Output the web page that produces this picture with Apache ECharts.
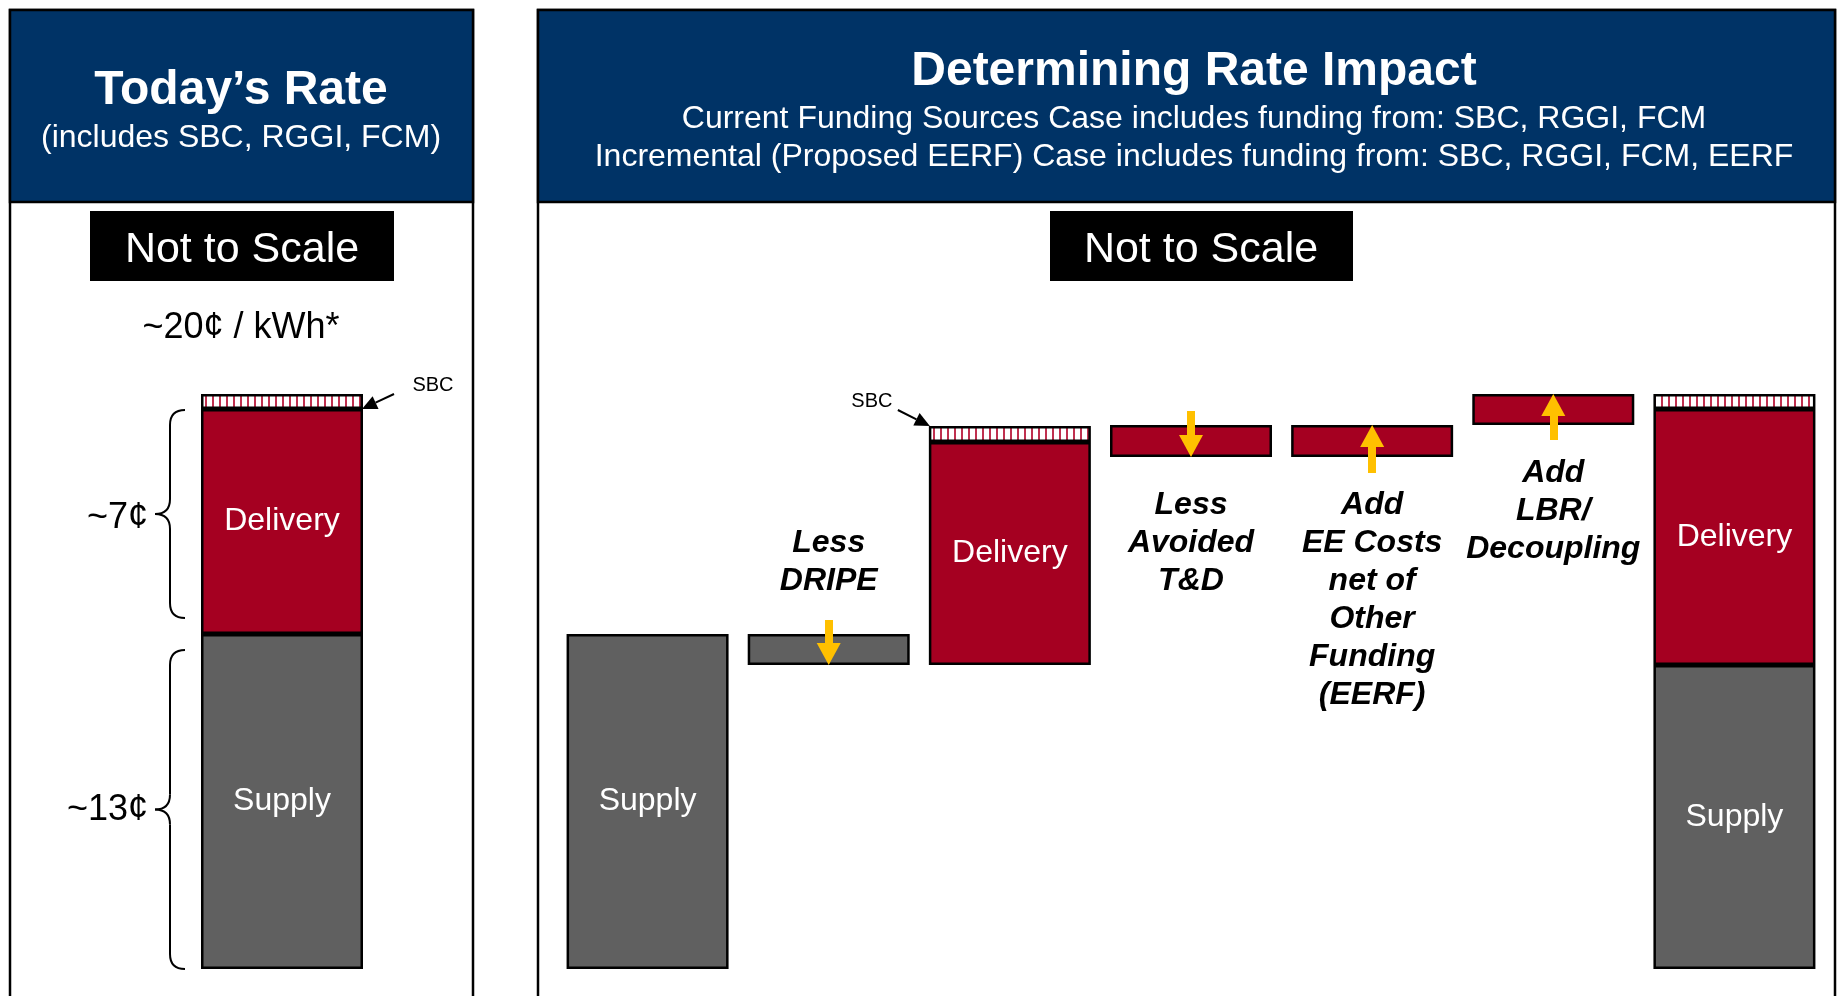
<!DOCTYPE html>
<html>
<head>
<meta charset="utf-8">
<script src="https://cdn.jsdelivr.net/npm/echarts@6/dist/echarts.min.js"></script>
</head>
<body style="margin:0;background:#fff">
<div id="container" style="width:1837px;height:996px"></div>
<script type="text/javascript">
// ---- data (not to scale, visual units) ----
// today's rate, one stacked bar
var todayCats = ['Today'];
var todaySupply = [33.5];
var todayDelivery = [22.5];
var todaySbc = [1.5];

// rate impact waterfall
var steps = ['Supply', 'Less DRIPE', 'Delivery', 'Less Avoided T&D', 'Add EE Costs', 'Add LBR', 'New Rate'];
var stepBase = [0, 30.4, 30.4, 51.2, 51.2, 54.4, 0];
var stepSupply = [33.5, 3.1, '-', '-', '-', '-', 30.4];
var stepDelivery = ['-', '-', 22.3, 3.2, 3.2, 3.1, 25.6];
var stepSbc = ['-', '-', 1.6, '-', '-', '-', 1.5];
var supplyTags = ['Supply', '', '', '', '', '', 'Supply'];
var deliveryTags = ['', '', 'Delivery', '', '', '', 'Delivery'];
var stepNotes = ['', 'Less\nDRIPE', '', 'Less\nAvoided\nT&D', 'Add\nEE Costs\nnet of\nOther\nFunding\n(EERF)', 'Add\nLBR/\nDecoupling', ''];
var noteAbove = [false, true, false, false, false, false, false];
// yellow arrows: step, from, to
var arrows = [
    ['Less DRIPE', 34.9, 30.4],
    ['Less Avoided T&D', 55.8, 51.2],
    ['Add EE Costs', 49.6, 54.4],
    ['Add LBR', 52.9, 57.5]
];
var braceTags = ['~7¢', '~13¢'];

var FONT = "'Liberation Sans', Arial, Helvetica, sans-serif";
var NAVY = '#003366';
var RED = '#A50021';
var GRAY = '#606060';
var GOLD = '#FFC000';

// striped fill for SBC
var hatch = document.createElement('canvas');
hatch.width = 7;
hatch.height = 20;
var hc = hatch.getContext('2d');
hc.fillStyle = '#ffffff';
hc.fillRect(0, 0, 7, 20);
hc.fillStyle = '#C0304F';
hc.fillRect(2, 0, 2, 20);
var hatchFill = {image: hatch, repeat: 'repeat'};

var edge = {borderColor: '#000', borderWidth: 2.5};
var BW = 162;
function tag(text) {
    return {show: true, position: 'inside', formatter: text, color: '#fff', fontSize: 32,
        fontFamily: FONT, textBorderWidth: 0};
}
var noteStyle = {show: true, color: '#000', fontSize: 32, fontWeight: 'bold', fontStyle: 'italic',
    lineHeight: 38, fontFamily: FONT, align: 'center', textBorderWidth: 0};
function note(text, pos, dist) {
    return Object.assign({}, noteStyle, {position: pos, distance: dist, formatter: text});
}
function build(vals, labelFor) {
    return vals.map(function (v, i) {
        var item = {value: v};
        var lab = labelFor(i);
        if (lab) item.label = lab;
        return item;
    });
}

var option = {
    animation: false,
    grid: [
        {left: 202, width: 160, top: 369, height: 600},
        {left: 557, width: 1268, top: 369, height: 600}
    ],
    xAxis: [
        {type: 'category', gridIndex: 0, data: todayCats, show: false},
        {type: 'category', gridIndex: 1, data: steps, show: false}
    ],
    yAxis: [
        {type: 'value', gridIndex: 0, min: 0, max: 60, show: false},
        {type: 'value', gridIndex: 1, min: 0, max: 60, show: false}
    ],
    series: [
        {type: 'bar', name: 'Supply', xAxisIndex: 0, yAxisIndex: 0, stack: 'today', barWidth: BW,
            itemStyle: Object.assign({color: GRAY}, edge), label: tag('Supply'), data: todaySupply},
        {type: 'bar', name: 'Delivery', xAxisIndex: 0, yAxisIndex: 0, stack: 'today', barWidth: BW,
            itemStyle: Object.assign({color: RED}, edge), label: tag('Delivery'), data: todayDelivery},
        {type: 'bar', name: 'SBC', xAxisIndex: 0, yAxisIndex: 0, stack: 'today', barWidth: BW,
            itemStyle: Object.assign({color: hatchFill}, edge), data: todaySbc},

        {type: 'bar', name: 'base', xAxisIndex: 1, yAxisIndex: 1, stack: 'step', barWidth: BW,
            itemStyle: {color: 'transparent'},
            data: build(stepBase, function (i) {
                return stepNotes[i] && !noteAbove[i] ? note(stepNotes[i], 'insideTop', 29) : null;
            })},
        {type: 'bar', name: 'Supply', xAxisIndex: 1, yAxisIndex: 1, stack: 'step', barWidth: BW,
            itemStyle: Object.assign({color: GRAY}, edge),
            data: build(stepSupply, function (i) {
                if (supplyTags[i]) return tag(supplyTags[i]);
                return stepNotes[i] && noteAbove[i] ? note(stepNotes[i], 'top', 34) : null;
            })},
        {type: 'bar', name: 'Delivery', xAxisIndex: 1, yAxisIndex: 1, stack: 'step', barWidth: BW,
            itemStyle: Object.assign({color: RED}, edge),
            data: build(stepDelivery, function (i) {
                return deliveryTags[i] ? tag(deliveryTags[i]) : null;
            })},
        {type: 'bar', name: 'SBC', xAxisIndex: 1, yAxisIndex: 1, stack: 'step', barWidth: BW,
            itemStyle: Object.assign({color: hatchFill}, edge), data: stepSbc},
        {type: 'line', name: 'arrows', xAxisIndex: 1, yAxisIndex: 1, data: [], z: 10,
            markLine: {
                silent: true,
                symbol: ['none', 'triangle'],
                symbolSize: [24, 22],
                label: {show: false},
                lineStyle: {color: GOLD, width: 8, type: 'solid', opacity: 1},
                data: arrows.map(function (a) {
                    var dir = a[2] > a[1] ? 1 : -1;
                    return [{coord: [a[0], a[1]]}, {coord: [a[0], a[2] - dir * 1.1]}];
                })
            }}
    ]
};

var chart = echarts.init(document.getElementById('container'));
chart.setOption(option);

// ---- frame, titles and annotations ----
function txt(text, x, y, font, color, align) {
    return {type: 'text', z: 20, style: {text: text, x: x, y: y, font: font, fill: color || '#000',
        align: align || 'center', verticalAlign: 'middle',
        textAlign: align || 'center', textVerticalAlign: 'middle'}};
}
function box(x, y, w, h, fill, stroke) {
    return {type: 'rect', z: 1, shape: {x: x, y: y, width: w, height: h},
        style: {fill: fill, stroke: stroke || null, lineWidth: 2.5}};
}
function pointer(tail, tip) {
    var dx = tip[0] - tail[0], dy = tip[1] - tail[1];
    var d = Math.sqrt(dx * dx + dy * dy), ux = dx / d, uy = dy / d;
    var len = 15, half = 7;
    var bx = tip[0] - ux * len, by = tip[1] - uy * len;
    return [
        {type: 'line', z: 20, shape: {x1: tail[0], y1: tail[1], x2: bx, y2: by},
            style: {stroke: '#000', lineWidth: 2}},
        {type: 'polygon', z: 20, shape: {points: [tip, [bx - uy * half, by + ux * half], [bx + uy * half, by - ux * half]]},
            style: {fill: '#000'}}
    ];
}
function brace(x, y1, y2) {
    var sx = x - 15, tx = x - 30, ym = (y1 + y2) / 2, r = 15;
    var st = {stroke: '#000', lineWidth: 2, fill: null};
    return [
        {type: 'bezierCurve', z: 20, shape: {x1: x, y1: y1, cpx1: sx, cpy1: y1, x2: sx, y2: y1 + r}, style: st},
        {type: 'line', z: 20, shape: {x1: sx, y1: y1 + r, x2: sx, y2: ym - r}, style: st},
        {type: 'bezierCurve', z: 20, shape: {x1: sx, y1: ym - r, cpx1: sx, cpy1: ym, x2: tx, y2: ym}, style: st},
        {type: 'bezierCurve', z: 20, shape: {x1: tx, y1: ym, cpx1: sx, cpy1: ym, x2: sx, y2: ym + r}, style: st},
        {type: 'line', z: 20, shape: {x1: sx, y1: ym + r, x2: sx, y2: y2 - r}, style: st},
        {type: 'bezierCurve', z: 20, shape: {x1: sx, y1: y2 - r, cpx1: sx, cpy1: y2, x2: x, y2: y2}, style: st}
    ];
}

var yL = function (v) { return chart.convertToPixel({yAxisIndex: 0}, v); };
var yR = function (v) { return chart.convertToPixel({yAxisIndex: 1}, v); };
var xToday = chart.convertToPixel({xAxisIndex: 0}, todayCats[0]);
var xDel = chart.convertToPixel({xAxisIndex: 1}, steps[2]);

var todayMid = yL(todaySupply[0]);
var todayDelTop = yL(todaySupply[0] + todayDelivery[0]);
var braceX = xToday - 97;

var g = [
    box(10, 10, 463, 1010, '#fff', '#000'),
    box(10, 10, 463, 192, NAVY, '#000'),
    box(538, 10, 1297, 1010, '#fff', '#000'),
    box(538, 10, 1297, 192, NAVY, '#000'),
    txt('Today’s Rate', 241, 91, 'bold 48px ' + FONT, '#fff'),
    txt('(includes SBC, RGGI, FCM)', 241, 138, '32px ' + FONT, '#fff'),
    txt('Determining Rate Impact', 1194, 72, 'bold 48px ' + FONT, '#fff'),
    txt('Current Funding Sources Case includes funding from: SBC, RGGI, FCM', 1194, 119, '32px ' + FONT, '#fff'),
    txt('Incremental (Proposed EERF) Case includes funding from: SBC, RGGI, FCM, EERF', 1194, 157, '32px ' + FONT, '#fff'),
    box(90, 211, 304, 70, '#000'),
    txt('Not to Scale', 242, 250, '43px ' + FONT, '#fff'),
    box(1050, 211, 303, 70, '#000'),
    txt('Not to Scale', 1201, 250, '43px ' + FONT, '#fff'),
    txt('~20¢ / kWh*', 241, 328, '36px ' + FONT, '#000')
];

// SBC pointers
var tipL = [xToday + 80, yL(todaySupply[0] + todayDelivery[0])];
var tailL = [tipL[0] + 32, tipL[1] - 15];
g = g.concat(pointer(tailL, tipL));
g.push(txt('SBC', tailL[0] + 39, tailL[1] - 9, '20px ' + FONT, '#000'));
var tipM = [xDel - 80, yR(stepBase[2] + stepDelivery[2] + stepSbc[2])];
var tailM = [tipM[0] - 32, tipM[1] - 16];
g = g.concat(pointer(tailM, tipM));
g.push(txt('SBC', tailM[0] - 26, tailM[1] - 9, '20px ' + FONT, '#000'));

// braces on the left bar
g = g.concat(brace(braceX, todayDelTop + 1, todayMid - 16));
g = g.concat(brace(braceX, todayMid + 16, yL(0)));
g.push(txt(braceTags[0], braceX - 37, (todayDelTop + todayMid - 15) / 2 + 4, '36px ' + FONT, '#000', 'right'));
g.push(txt(braceTags[1], braceX - 37, (todayMid + 16 + yL(0)) / 2 + 1, '36px ' + FONT, '#000', 'right'));

// panel frames sit beneath the bars
g.forEach(function (el) { if (el.type === 'rect' && el.shape.height > 200) el.z = 0; });
chart.setOption({graphic: g});
</script>
</body>
</html>
